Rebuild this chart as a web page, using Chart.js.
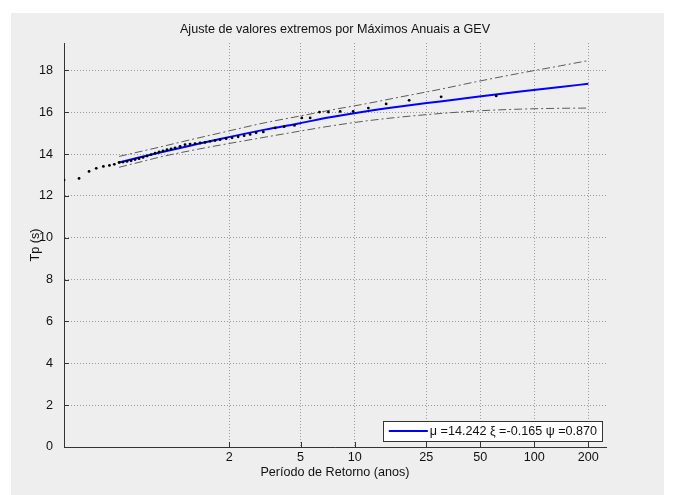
<!DOCTYPE html>
<html>
<head>
<meta charset="utf-8">
<title>Ajuste GEV - Máximos Anuais</title>
<script src="https://cdn.jsdelivr.net/npm/chart.js@4/dist/chart.umd.min.js"></script>
<style>
  html, body { margin: 0; padding: 0; background: #ffffff; }
  #frame { position: absolute; left: 11px; top: 13px; width: 653px; height: 482px; background: #eeeeee; }
  #wrap { position: absolute; left: 0; top: 0; width: 675px; height: 495px; }
</style>
</head>
<body>
<div id="frame"></div>
<div id="wrap"><canvas id="chart" width="675" height="495"></canvas></div>
<script>
// Axis ticks
const xTickValues = [2, 5, 10, 25, 50, 100, 200];
const yTickValues = [0, 2, 4, 6, 8, 10, 12, 14, 16, 18];

// Annual maxima (return period in years, Tp in s)
const observedT  = [0.241, 0.292, 0.332, 0.364, 0.399, 0.431, 0.459,
  0.488, 0.513, 0.540, 0.569, 0.599, 0.630, 0.663, 0.698, 0.735, 0.774,
  0.815, 0.857, 0.902, 0.950, 1.000, 1.066, 1.137, 1.212, 1.292, 1.378,
  1.469, 1.567, 1.671, 1.781, 1.924, 2.077, 2.244, 2.424, 2.617, 2.827,
  3.10, 3.61, 4.05, 4.62, 5.08, 5.65, 6.37, 7.14, 8.30, 9.81,
  11.92, 14.97, 20.1, 30.3, 61.4];
const observedTp = [12.76, 12.84, 13.17, 13.32, 13.41, 13.46, 13.51,
  13.60, 13.62, 13.65, 13.68, 13.74, 13.78, 13.84, 13.91, 13.98, 14.04,
  14.10, 14.15, 14.21, 14.25, 14.30, 14.37, 14.45, 14.48, 14.50, 14.53,
  14.56, 14.61, 14.65, 14.69, 14.74, 14.78, 14.83, 14.88, 14.94, 15.02,
  15.06, 15.25, 15.31, 15.37, 15.73, 15.73, 16.01, 16.01, 16.04, 16.04,
  16.20, 16.40, 16.57, 16.74, 16.78];

// Fitted GEV curve and its confidence bounds
const fitT     = [0.488, 0.638, 0.825, 1.21, 1.78, 3.17, 4.97, 7.30, 11.44, 17.93, 29.95, 46.9, 83.6, 139.6, 200];
const fitTp    = [13.60, 13.85, 14.08, 14.40, 14.72, 15.17, 15.48, 15.76, 16.04, 16.28, 16.52, 16.73, 16.99, 17.21, 17.36];
const upperTp  = [13.89, 14.12, 14.34, 14.68, 15.01, 15.50, 15.82, 16.10, 16.40, 16.73, 17.10, 17.45, 17.87, 18.22, 18.47];
const lowerTp  = [13.37, 13.62, 13.86, 14.16, 14.43, 14.81, 15.10, 15.34, 15.58, 15.77, 15.94, 16.06, 16.15, 16.19, 16.20];

const fitLabel = 'μ =14.242 ξ =-0.165 ψ =0.870';
const chartTitle = 'Ajuste de valores extremos por Máximos Anuais a GEV';
const xTitle = 'Período de Retorno (anos)';
const yTitle = 'Tp (s)';

const pairs = (xs, ys) => xs.map((x, i) => ({ x: x, y: ys[i] }));

const FONT = 'Liberation Sans, Arial, Helvetica, sans-serif';
const FS = 12.6;

// Short inward tick marks on the left and bottom axes
const innerTicks = {
  id: 'innerTicks',
  afterDraw(chart) {
    const { ctx, chartArea: a, scales: { x, y } } = chart;
    ctx.save();
    ctx.strokeStyle = '#333333';
    ctx.lineWidth = 1;
    ctx.beginPath();
    xTickValues.forEach(v => {
      const px = Math.round(x.getPixelForValue(v)) + 0.5;
      ctx.moveTo(px, a.bottom);
      ctx.lineTo(px, a.bottom - 5);
    });
    yTickValues.forEach(v => {
      const py = Math.round(y.getPixelForValue(v)) + 0.5;
      ctx.moveTo(a.left, py);
      ctx.lineTo(a.left + 5, py);
    });
    ctx.stroke();
    ctx.restore();
  }
};

// Boxed legend in the lower-right corner of the plot area
const boxLegend = {
  id: 'boxLegend',
  afterDraw(chart) {
    const { ctx, chartArea: a } = chart;
    const ds = chart.data.datasets[1];
    ctx.save();
    ctx.font = FS + 'px ' + FONT;
    const tw = ctx.measureText(ds.label).width;
    const w = 47 + tw + 5;
    const h = 20;
    const right = a.right - 4;
    const bottom = a.bottom - 6;
    const left = right - w;
    const top = bottom - h;
    ctx.fillStyle = '#ffffff';
    ctx.fillRect(left, top, w, h);
    ctx.strokeStyle = '#333333';
    ctx.lineWidth = 1;
    ctx.strokeRect(Math.round(left) + 0.5, Math.round(top) + 0.5, Math.round(w), h);
    const cy = top + h / 2;
    ctx.strokeStyle = ds.borderColor;
    ctx.lineWidth = ds.borderWidth;
    ctx.beginPath();
    ctx.moveTo(left + 6, cy);
    ctx.lineTo(left + 45, cy);
    ctx.stroke();
    ctx.fillStyle = '#111111';
    ctx.textBaseline = 'middle';
    ctx.fillText(ds.label, left + 47, cy + 1);
    ctx.restore();
  }
};

new Chart(document.getElementById('chart'), {
  type: 'scatter',
  data: {
    datasets: [
      {
        label: 'Máximos anuais',
        data: pairs(observedT, observedTp),
        showLine: false,
        pointRadius: 1.4,
        pointBackgroundColor: '#000000',
        pointBorderWidth: 0
      },
      {
        label: fitLabel,
        data: pairs(fitT, fitTp),
        showLine: true,
        borderColor: '#0000ff',
        borderWidth: 2,
        pointRadius: 0,
        cubicInterpolationMode: 'monotone'
      },
      {
        label: 'Limite superior',
        data: pairs(fitT, upperTp),
        showLine: true,
        borderColor: '#5a5a5a',
        borderWidth: 1,
        borderDash: [8, 3, 2, 3],
        pointRadius: 0,
        cubicInterpolationMode: 'monotone'
      },
      {
        label: 'Limite inferior',
        data: pairs(fitT, lowerTp),
        showLine: true,
        borderColor: '#5a5a5a',
        borderWidth: 1,
        borderDash: [8, 3, 2, 3],
        pointRadius: 0,
        cubicInterpolationMode: 'monotone'
      }
    ]
  },
  options: {
    responsive: false,
    animation: false,
    events: [],
    layout: { padding: { left: 0, top: 0, right: 69, bottom: 0 } },
    plugins: {
      legend: { display: false },
      tooltip: { enabled: false },
      title: {
        display: true,
        text: chartTitle,
        fullSize: false,
        color: '#111111',
        font: { family: FONT, size: FS, weight: 'normal' },
        padding: { top: 22.4, bottom: 5.5 }
      }
    },
    scales: {
      x: {
        type: 'logarithmic',
        min: 0.2408,
        max: 250.8,
        afterBuildTicks(scale) { scale.ticks = xTickValues.map(v => ({ value: v, major: false })); },
        afterFit(scale) { scale.height = 48; },
        ticks: {
          autoSkip: false,
          maxRotation: 0,
          padding: 3,
          color: '#111111',
          font: { family: FONT, size: FS },
          callback: v => String(v)
        },
        grid: { color: '#9a9a9a', lineWidth: 1, drawTicks: false },
        border: { display: true, color: '#333333', width: 1, dash: [1, 2] },
        title: {
          display: true,
          text: xTitle,
          color: '#111111',
          font: { family: FONT, size: FS },
          padding: { top: 0, bottom: 15.4 }
        }
      },
      y: {
        type: 'linear',
        min: 0,
        max: 19.31,
        afterBuildTicks(scale) { scale.ticks = yTickValues.map(v => ({ value: v })); },
        afterFit(scale) { scale.width = 64; },
        ticks: {
          padding: 11,
          color: '#111111',
          font: { family: FONT, size: FS }
        },
        grid: { color: '#9a9a9a', lineWidth: 1, drawTicks: false },
        border: { display: true, color: '#333333', width: 1, dash: [1, 2] },
        title: {
          display: true,
          text: yTitle,
          color: '#111111',
          font: { family: FONT, size: FS },
          padding: { top: 28.4, bottom: 0 }
        }
      }
    }
  },
  plugins: [innerTicks, boxLegend]
});
</script>
</body>
</html>
